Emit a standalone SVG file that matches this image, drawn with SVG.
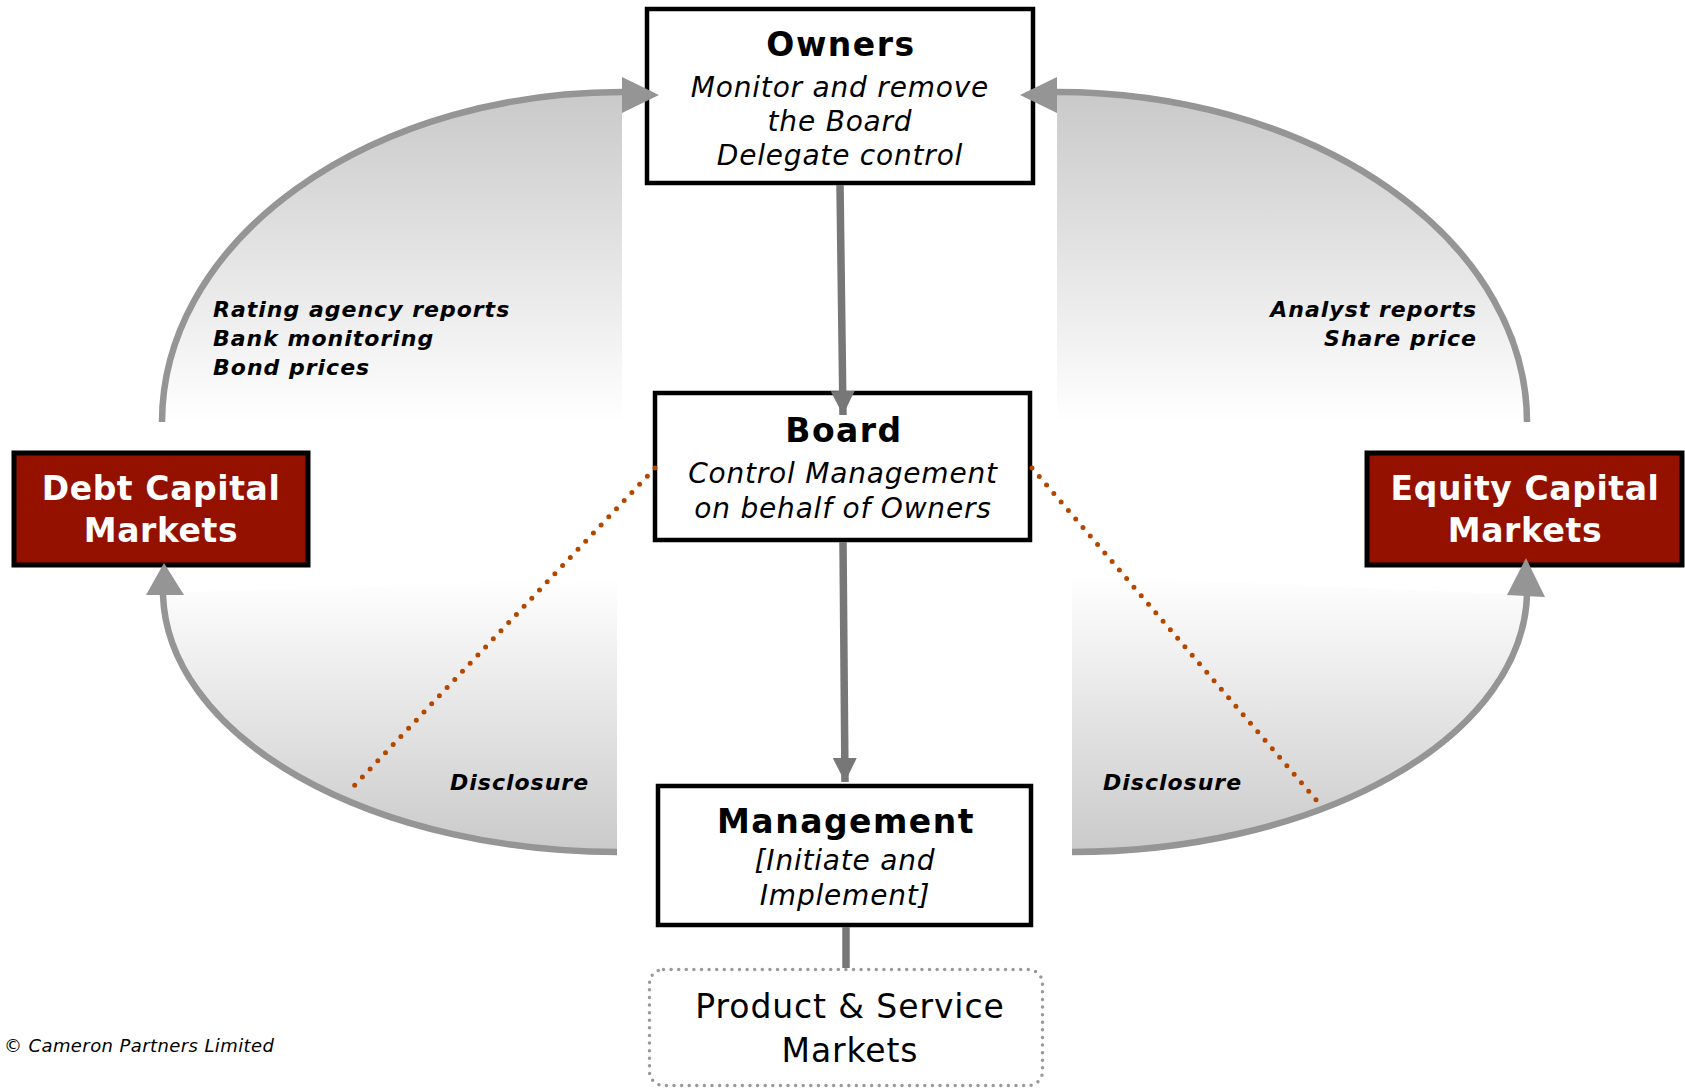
<svg xmlns="http://www.w3.org/2000/svg" width="1685" height="1089" viewBox="0 0 1685 1089">
<defs>
<linearGradient id="gUp" x1="0" y1="0" x2="0" y2="1">
<stop offset="0" stop-color="#c9c9c9"/>
<stop offset="1" stop-color="#ffffff"/>
</linearGradient>
<linearGradient id="gDown" x1="0" y1="0" x2="0" y2="1">
<stop offset="0" stop-color="#ffffff"/>
<stop offset="1" stop-color="#cacaca"/>
</linearGradient>
<marker id="ah" viewBox="0 0 10 10" refX="10" refY="5" markerWidth="3.2" markerHeight="3.2" orient="auto" markerUnits="strokeWidth">
<path d="M0,0 L10,5 L0,10 Z" fill="#777777"/>
</marker>
<style>
.box{fill:#ffffff;stroke:#000000;stroke-width:4.5}
.red{fill:#941100;stroke:#000000;stroke-width:5}
.title{font-family:"DejaVu Sans",Verdana,sans-serif;font-weight:bold;font-size:33px;letter-spacing:1.5px;fill:#000;text-anchor:middle}
.sub{font-family:"DejaVu Sans",Verdana,sans-serif;font-style:italic;font-size:28px;letter-spacing:0.8px;fill:#000;text-anchor:middle}
.redt{font-family:"DejaVu Sans",Verdana,sans-serif;font-weight:bold;font-size:33px;letter-spacing:0.6px;fill:#fff;text-anchor:middle}
.lab{font-family:"DejaVu Sans",Verdana,sans-serif;font-weight:bold;font-style:italic;font-size:22px;letter-spacing:1px;fill:#000}
.arc{fill:none;stroke:#959595;stroke-width:6.5}
.head{fill:#959595}
.conn{fill:none;stroke:#777777;stroke-width:7.5}
.dot{fill:none;stroke:#b34700;stroke-width:5;stroke-linecap:round;stroke-dasharray:0 11.2}
</style>
</defs>
<rect width="1685" height="1089" fill="#ffffff"/>

<g id="owners">
<rect x="647" y="9" width="386" height="174" class="box"/>
<text x="841" y="56" class="title">Owners</text>
<text x="840" y="97" class="sub">Monitor and remove</text>
<text x="840" y="131" class="sub">the Board</text>
<text x="840" y="165" class="sub">Delegate control</text>
</g>

<g id="board">
<rect x="655" y="393" width="375" height="147" class="box"/>
<text x="844" y="442" class="title">Board</text>
<text x="843" y="483" class="sub">Control Management</text>
<text x="843" y="518" class="sub">on behalf of Owners</text>
</g>

<g id="management">
<rect x="658" y="786" width="373" height="139" class="box"/>
<text x="846" y="833" class="title">Management</text>
<text x="845" y="870" class="sub">[Initiate and</text>
<text x="845" y="905" class="sub">Implement]</text>
</g>

<g id="product">
<rect x="649.5" y="969.5" width="393" height="116" rx="14" ry="14" fill="#ffffff" stroke="#999999" stroke-width="3.5" stroke-linecap="round" stroke-dasharray="0 7.6"/>
<text x="850" y="1018" font-family="'DejaVu Sans',Verdana,sans-serif" font-size="33" letter-spacing="0.9" text-anchor="middle" fill="#000">Product &amp; Service</text>
<text x="850" y="1062" font-family="'DejaVu Sans',Verdana,sans-serif" font-size="33" letter-spacing="0.9" text-anchor="middle" fill="#000">Markets</text>
</g>

<g id="debt">
<rect x="14" y="453" width="294" height="112" class="red"/>
<text x="161" y="500" class="redt">Debt Capital</text>
<text x="161" y="542" class="redt">Markets</text>
</g>

<g id="equity">
<rect x="1367" y="453" width="315" height="112" class="red"/>
<text x="1525" y="500" class="redt">Equity Capital</text>
<text x="1525" y="542" class="redt">Markets</text>
</g>

<g id="loops">
<path d="M162 422 A460 330 0 0 1 622 92 L622 422 Z" fill="url(#gUp)"/>
<path d="M162 422 A460 330 0 0 1 622 92" class="arc"/>
<polygon points="622,77 659,95 622,113" class="head"/>

<path d="M1527 422 A470 330 0 0 0 1057 92 L1057 422 Z" fill="url(#gUp)"/>
<path d="M1527 422 A470 330 0 0 0 1057 92" class="arc"/>
<polygon points="1057,77 1020,95 1057,113" class="head"/>

<path d="M162 593 A455 262 0 0 0 617 852 L617 578 Z" fill="url(#gDown)"/>
<path d="M163 595 A455 262 0 0 0 617 852" class="arc"/>
<polygon points="146,595 164,563 184,595" class="head"/>

<path d="M1072 852 A455 262 0 0 0 1527 595 L1072 575 Z" fill="url(#gDown)"/>
<path d="M1072 852 A455 262 0 0 0 1527 595" class="arc"/>
<polygon points="1507,595 1526,558 1545,597" class="head"/>
</g>

<g id="connectors">
<line x1="840" y1="185" x2="843" y2="415" class="conn" marker-end="url(#ah)"/>
<line x1="843" y1="542" x2="845" y2="782" class="conn" marker-end="url(#ah)"/>
<line x1="846" y1="927" x2="846" y2="968" class="conn" stroke-width="8"/>
<line x1="655" y1="468" x2="353" y2="787" class="dot"/>
<line x1="1032" y1="468" x2="1317" y2="801" class="dot"/>
</g>

<g id="labels">
<text x="213" y="317" class="lab">Rating agency reports</text>
<text x="213" y="346" class="lab">Bank monitoring</text>
<text x="213" y="375" class="lab">Bond prices</text>
<text x="1477" y="317" class="lab" text-anchor="end">Analyst reports</text>
<text x="1477" y="346" class="lab" text-anchor="end">Share price</text>
<text x="450" y="790" class="lab">Disclosure</text>
<text x="1103" y="790" class="lab">Disclosure</text>
<text x="4" y="1052" font-family="'DejaVu Sans',Verdana,sans-serif" font-style="italic" font-size="18" letter-spacing="0.4" fill="#000">© Cameron Partners Limited</text>
</g>
</svg>
